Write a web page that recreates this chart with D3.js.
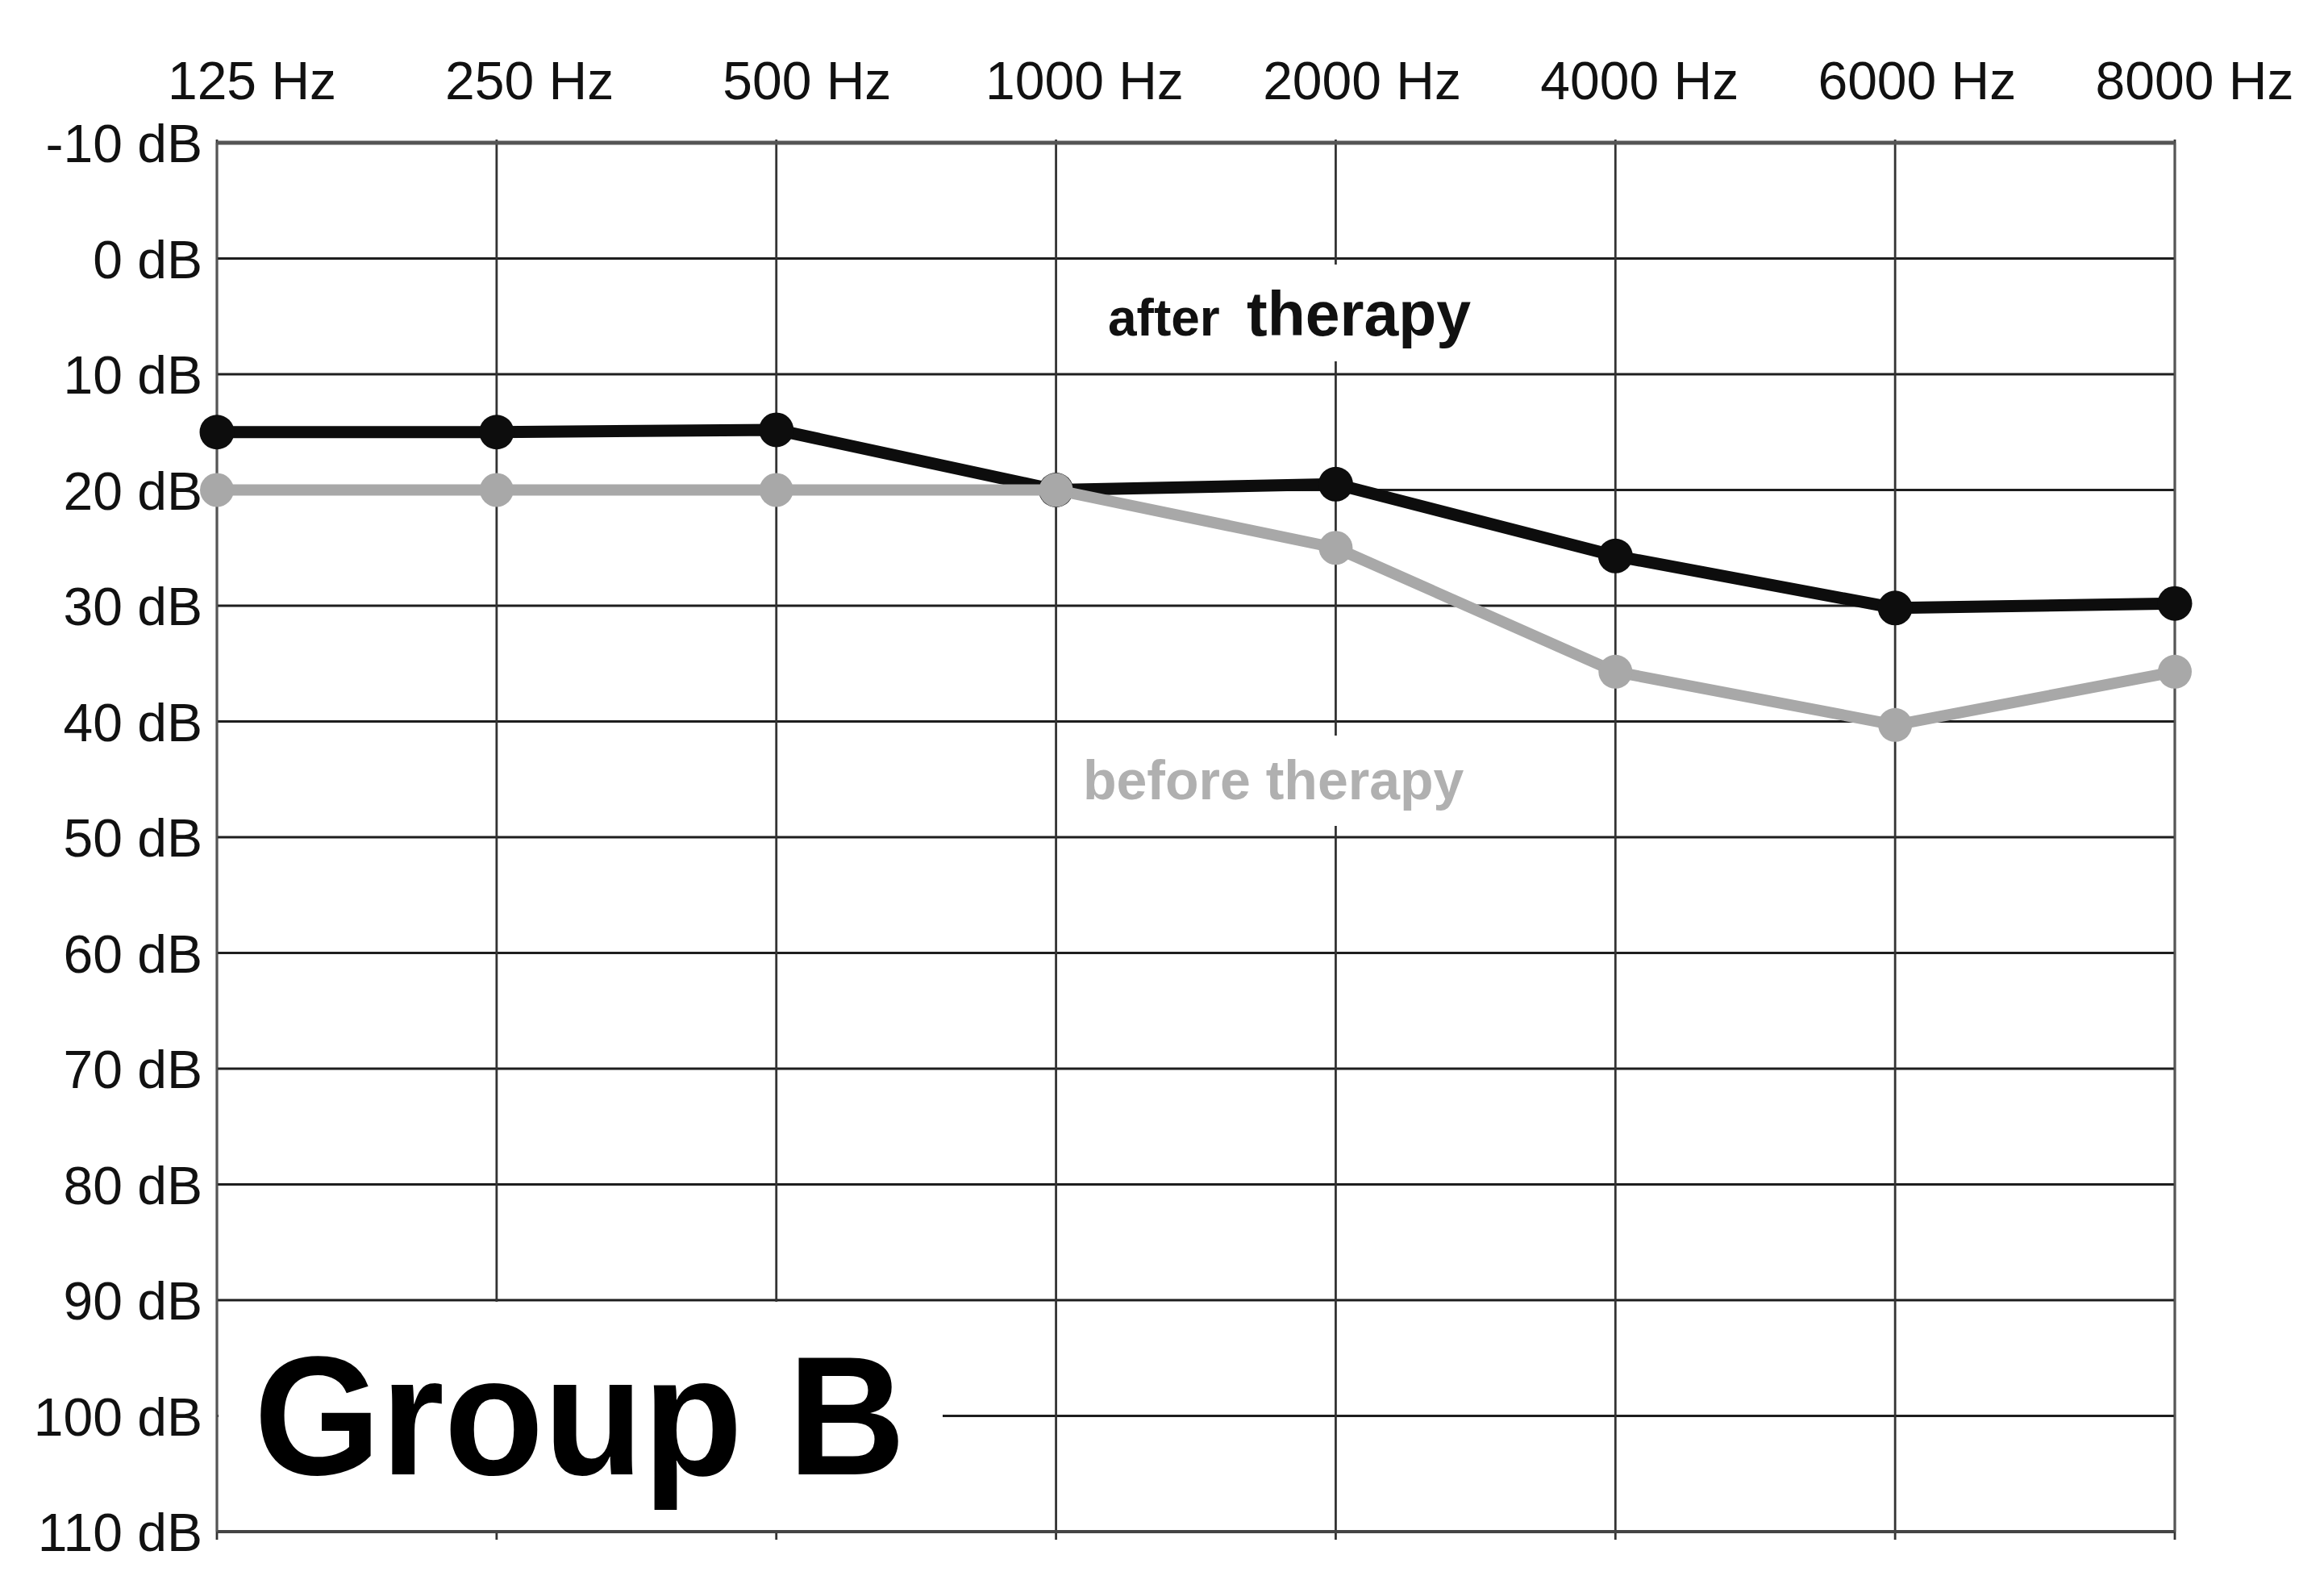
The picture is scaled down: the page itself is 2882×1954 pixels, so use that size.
<!DOCTYPE html>
<html><head><meta charset="utf-8">
<script src="https://cdn.jsdelivr.net/npm/d3@7"></script>
<style>body{margin:0;background:#fff}svg{display:block;background:#fff}</style>
</head><body>
<svg id="c" width="2882" height="1954"></svg>
<script>
// ---- data ----
const frequencies = ["125 Hz","250 Hz","500 Hz","1000 Hz","2000 Hz","4000 Hz","6000 Hz","8000 Hz"];
const dbTicks = [-10,0,10,20,30,40,50,60,70,80,90,100,110];
const afterTherapy = [15,15,14.8,20,19.5,25.7,30.2,29.8];
const beforeTherapy = [20,20,20,20,25,35.7,40.3,35.7];
const seriesNames = ["after therapy","before therapy"];
const groupTitle = "Group B";

// ---- layout ----
const svg = d3.select("#c");
const L = 269, R = 2697, T = 177, B = 1899;
const x = d3.scalePoint().domain(frequencies).range([L, R]).padding(0);
const xLab = d3.scalePoint().domain(frequencies).range([312, 2721]).padding(0);
const y = d3.scaleLinear().domain([-10, 110]).range([T, B]);
const font = "'Liberation Sans', Arial, Helvetica, sans-serif";

// grid: horizontal
svg.append("g").selectAll("line").data(dbTicks).join("line")
  .attr("x1", L).attr("x2", R)
  .attr("y1", d => y(d)).attr("y2", d => y(d))
  .attr("stroke", "#1e1e1e").attr("stroke-width", 3);
// grid: vertical
svg.append("g").selectAll("line").data(frequencies).join("line")
  .attr("x1", d => x(d)).attr("x2", d => x(d))
  .attr("y1", T - 4).attr("y2", B + 10)
  .attr("stroke", "#333").attr("stroke-width", 2.8);

// white boxes behind annotations
svg.append("rect").attr("x", L + 2).attr("y", y(90) + 2)
  .attr("width", 1167 - L).attr("height", y(110) - y(90) - 4).attr("fill", "#fff");
svg.append("rect").attr("x", 1322).attr("y", 328)
  .attr("width", 560).attr("height", 120).attr("fill", "#fff");
svg.append("rect").attr("x", 1313).attr("y", 912)
  .attr("width", 520).attr("height", 112).attr("fill", "#fff");

// borders
svg.append("line").attr("x1", L).attr("x2", R).attr("y1", T).attr("y2", T)
  .attr("stroke", "#555").attr("stroke-width", 5);
svg.append("line").attr("x1", L).attr("x2", R).attr("y1", B).attr("y2", B)
  .attr("stroke", "#444").attr("stroke-width", 4);
svg.append("line").attr("x1", L).attr("x2", L).attr("y1", T).attr("y2", B)
  .attr("stroke", "#555").attr("stroke-width", 2.5);
svg.append("line").attr("x1", R).attr("x2", R).attr("y1", T).attr("y2", B)
  .attr("stroke", "#555").attr("stroke-width", 2.5);

// axes (labels)
const yAxis = svg.append("g").attr("transform", `translate(${L},0)`)
  .call(d3.axisLeft(y).tickValues(dbTicks).tickSize(0).tickPadding(18).tickFormat(d => d + " dB"));
yAxis.select(".domain").remove();
yAxis.selectAll("text").attr("font-family", font).attr("font-size", 66).attr("fill", "#111")
  .attr("dy", "0.36em");

const xAxis = svg.append("g").attr("transform", `translate(0,123)`)
  .call(d3.axisTop(xLab).tickSize(0).tickPadding(0));
xAxis.select(".domain").remove();
xAxis.selectAll("text").attr("font-family", font).attr("font-size", 66).attr("fill", "#111")
  .attr("dy", "0");

// series
const line = d3.line().x((d, i) => x(frequencies[i])).y(d => y(d));
function drawSeries(vals, color, width, r) {
  svg.append("path").datum(vals).attr("d", line)
    .attr("fill", "none").attr("stroke", color).attr("stroke-width", width)
    .attr("stroke-linejoin", "round");
  svg.append("g").selectAll("circle").data(vals).join("circle")
    .attr("cx", (d, i) => x(frequencies[i])).attr("cy", d => y(d))
    .attr("r", r).attr("fill", color);
}
drawSeries(afterTherapy, "#0d0d0d", 15, 21.5);
drawSeries(beforeTherapy, "#a8a8a8", 14, 21);

// annotations
svg.append("text").attr("x", 1374).attr("y", 416).attr("font-family", font)
  .attr("font-weight", "bold").attr("font-size", 64).attr("fill", "#111").text("after");
svg.append("text").attr("x", 1546).attr("y", 416).attr("font-family", font)
  .attr("font-weight", "bold").attr("font-size", 77).attr("fill", "#111").text("therapy");
svg.append("text").attr("x", 1343).attr("y", 991).attr("font-family", font)
  .attr("font-weight", "bold").attr("font-size", 68).attr("fill", "#b0b0b0").text(seriesNames[1]);
svg.append("text").attr("x", 315).attr("y", 1828).attr("font-family", font)
  .attr("font-weight", "bold").attr("font-size", 210).attr("fill", "#000")
  .attr("textLength", 808).attr("lengthAdjust", "spacingAndGlyphs").text(groupTitle);
</script>
</body></html>
